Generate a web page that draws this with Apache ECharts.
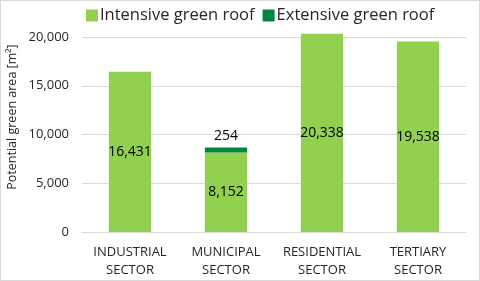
<!DOCTYPE html>
<html><head><meta charset="utf-8">
<script src="https://cdn.jsdelivr.net/npm/echarts@6/dist/echarts.min.js"></script>
<style>html,body{margin:0;padding:0;background:#fff}#c{width:478px;height:279px;border:1px solid #d9d9d9}</style>
</head><body><div id="c"></div>
<script>
var categories = ['INDUSTRIAL\nSECTOR', 'MUNICIPAL\nSECTOR', 'RESIDENTIAL\nSECTOR', 'TERTIARY\nSECTOR'];
var intensive = [16431, 8152, 20338, 19538];
var extensive = ['-', 254, '-', '-'];
var yTicks = [0, 5000, 10000, 15000, 20000];
var yTitle = 'Potential green area [m²]';
var font = 'Open Sans';
var chart = echarts.init(document.getElementById('c'), null, {renderer: 'canvas'});
chart.setOption({
  animation: false,
  textStyle: {fontFamily: font},
  legend: {
    top: 1, left: 80, itemWidth: 12, itemHeight: 12, itemGap: 8,
    icon: 'rect',
    textStyle: {fontFamily: font, fontSize: 16.5, color: '#262626', padding: [0, 0, 0, -3]},
    data: ['Intensive green roof', 'Extensive green roof']
  },
  graphic: [{
    type: 'text', x: 11, y: 116,
    rotation: Math.PI / 2,
    style: {text: yTitle, font: '12.5px "Open Sans"', fill: '#262626', textAlign: 'center', textVerticalAlign: 'middle'}
  }],
  grid: {left: 81, right: 13, top: 36, bottom: 48, containLabel: false},
  xAxis: {
    type: 'category', data: categories,
    axisLine: {lineStyle: {color: '#d9d9d9'}},
    axisTick: {show: false},
    axisLabel: {color: '#262626', fontSize: 13, fontFamily: font, lineHeight: 18, margin: 11, interval: 0}
  },
  yAxis: {
    type: 'value', min: 0, max: 20000, interval: 5000,
    axisLine: {show: false}, axisTick: {show: false},
    splitLine: {lineStyle: {color: '#d9d9d9'}},
    axisLabel: {color: '#262626', fontSize: 13, fontFamily: font, margin: 13,
      formatter: function (v) { return yTicks.indexOf(v) >= 0 ? v.toLocaleString('en-US') : ''; }}
  },
  series: [
    {name: 'Intensive green roof', type: 'bar', stack: 's', data: intensive, barWidth: '44%', clip: false,
      itemStyle: {color: '#92d050'},
      label: {show: true, position: 'inside', color: '#000', fontSize: 14, fontFamily: font,
        formatter: function (p) { return p.value.toLocaleString('en-US'); }}},
    {name: 'Extensive green roof', type: 'bar', stack: 's', data: extensive, barWidth: '44%', barMinHeight: 5, clip: false,
      itemStyle: {color: '#00873e'},
      label: {show: true, position: 'top', distance: 5, color: '#000', fontSize: 14, fontFamily: font,
        formatter: function (p) { return p.value.toLocaleString('en-US'); }}}
  ]
});
</script></body></html>
